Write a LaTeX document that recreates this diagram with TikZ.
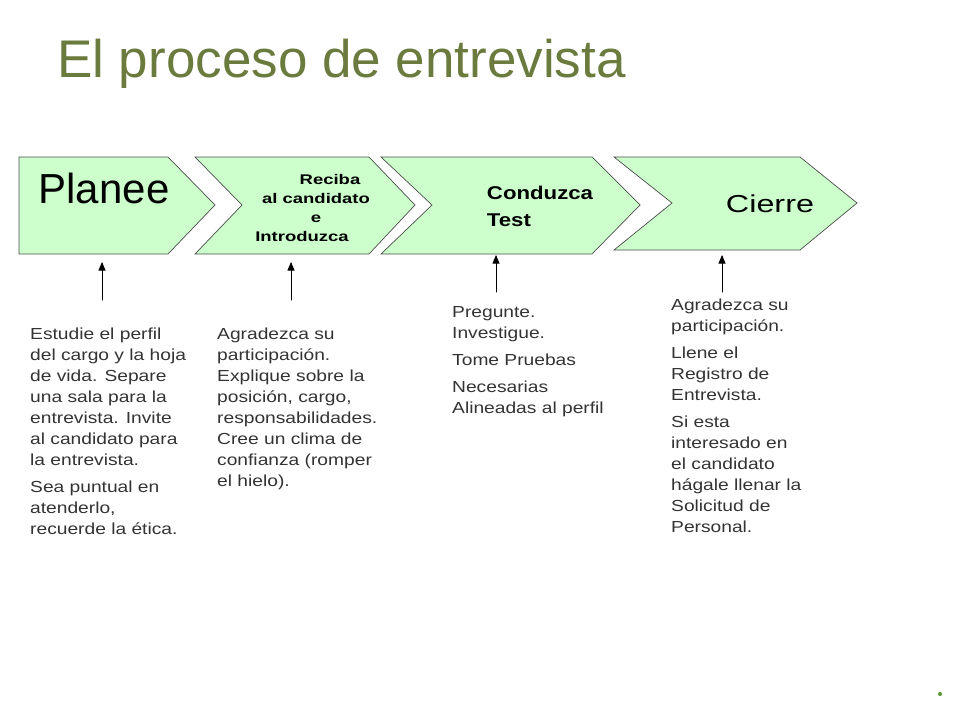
\documentclass[tikz,border=0pt]{standalone}
\usepackage{fontspec}
\setmainfont{Liberation Sans}
\newfontfamily\wideface[FakeStretch=1.32]{Liberation Sans}
\newfontfamily\notesface[FakeStretch=1.2]{Liberation Sans}
\usetikzlibrary{arrows}
\definecolor{titlegreen}{rgb}{0.42,0.48,0.24}
\definecolor{boxgreen}{rgb}{0.80,1,0.80}
\definecolor{textgray}{rgb}{0.2,0.2,0.2}
\tikzset{
  stage/.style={draw=black!70,fill=boxgreen,line width=0.7pt,line join=miter},
  notes/.style={anchor=north west,align=left,text=textgray,font=\notesface\fontsize{16}{21}\selectfont,inner sep=0pt},
  pointer/.style={->,>=triangle 45,line width=1pt}
}
\begin{document}
\begin{tikzpicture}[x=1pt,y=-1pt,line cap=round]
		\useasboundingbox (0,0) rectangle (960,720);
		\node[anchor=west,text=titlegreen,font=\fontsize{53}{58}\selectfont,inner sep=0pt] (title) at (57,64) {El proceso de entrevista};
		\draw [stage] (19,157) -- (168,157) -- (215,205) -- (168,254) -- (19,254) -- cycle;
		\draw [stage] (195,157) -- (369,157) -- (415,205) -- (369,254) -- (195,254) -- (242,205) -- cycle;
		\draw [stage] (381,157) -- (592,157) -- (640,205) -- (592,254) -- (381,254) -- (432,205) -- cycle;
		\draw [stage] (614,157) -- (800,157) -- (857,203) -- (800,250) -- (614,250) -- (672,203) -- cycle;
		\node[font=\fontsize{42}{46}\selectfont] (planee) at (104,188) {Planee};
		\node[align=center,font=\wideface\bfseries\fontsize{14}{19}\selectfont] (reciba) at (316,208) {\hspace*{28pt}Reciba\\al candidato\\e\hspace*{18pt}\\Introduzca\hspace*{28pt}};
		\node[align=left,font=\notesface\bfseries\fontsize{18.5}{27}\selectfont] (conduzca) at (540,206) {Conduzca\\Test};
		\node[font=\wideface\fontsize{24.5}{30}\selectfont] (cierre) at (770,204) {Cierre};
		\coordinate (p1) at (102,300);
		\coordinate (p2) at (291,300);
		\coordinate (p3) at (496,292);
		\coordinate (p4) at (722,292);
		\coordinate (t1) at (102,262);
		\coordinate (t2) at (291,262);
		\coordinate (t3) at (496,255);
		\coordinate (t4) at (722,255);
		\foreach \i in {1,...,4} \draw [pointer] (p\i) -- (t\i);
		\node[notes] (n1) at (30,328) {Estudie el perfil\\del cargo y la hoja\\de vida. Separe\\una sala para la\\entrevista. Invite\\al candidato para\\la entrevista.\\[6pt]Sea puntual en\\atenderlo,\\recuerde la ética.};
		\node[notes] (n2) at (217,328) {Agradezca su\\participación.\\Explique sobre la\\posición, cargo,\\responsabilidades.\\Cree un clima de\\confianza (romper\\el hielo).};
		\node[notes] (n3) at (452,306) {Pregunte.\\Investigue.\\[6pt]Tome Pruebas\\[6pt]Necesarias\\Alineadas al perfil};
		\node[notes] (n4) at (671,299) {Agradezca su\\participación.\\[6pt]Llene el\\Registro de\\Entrevista.\\[6pt]Si esta\\interesado en\\el candidato\\hágale llenar la\\Solicitud de\\Personal.};
		\fill [titlegreen!80!green] (940,694) circle (2);
	\end{tikzpicture}
\end{document}
